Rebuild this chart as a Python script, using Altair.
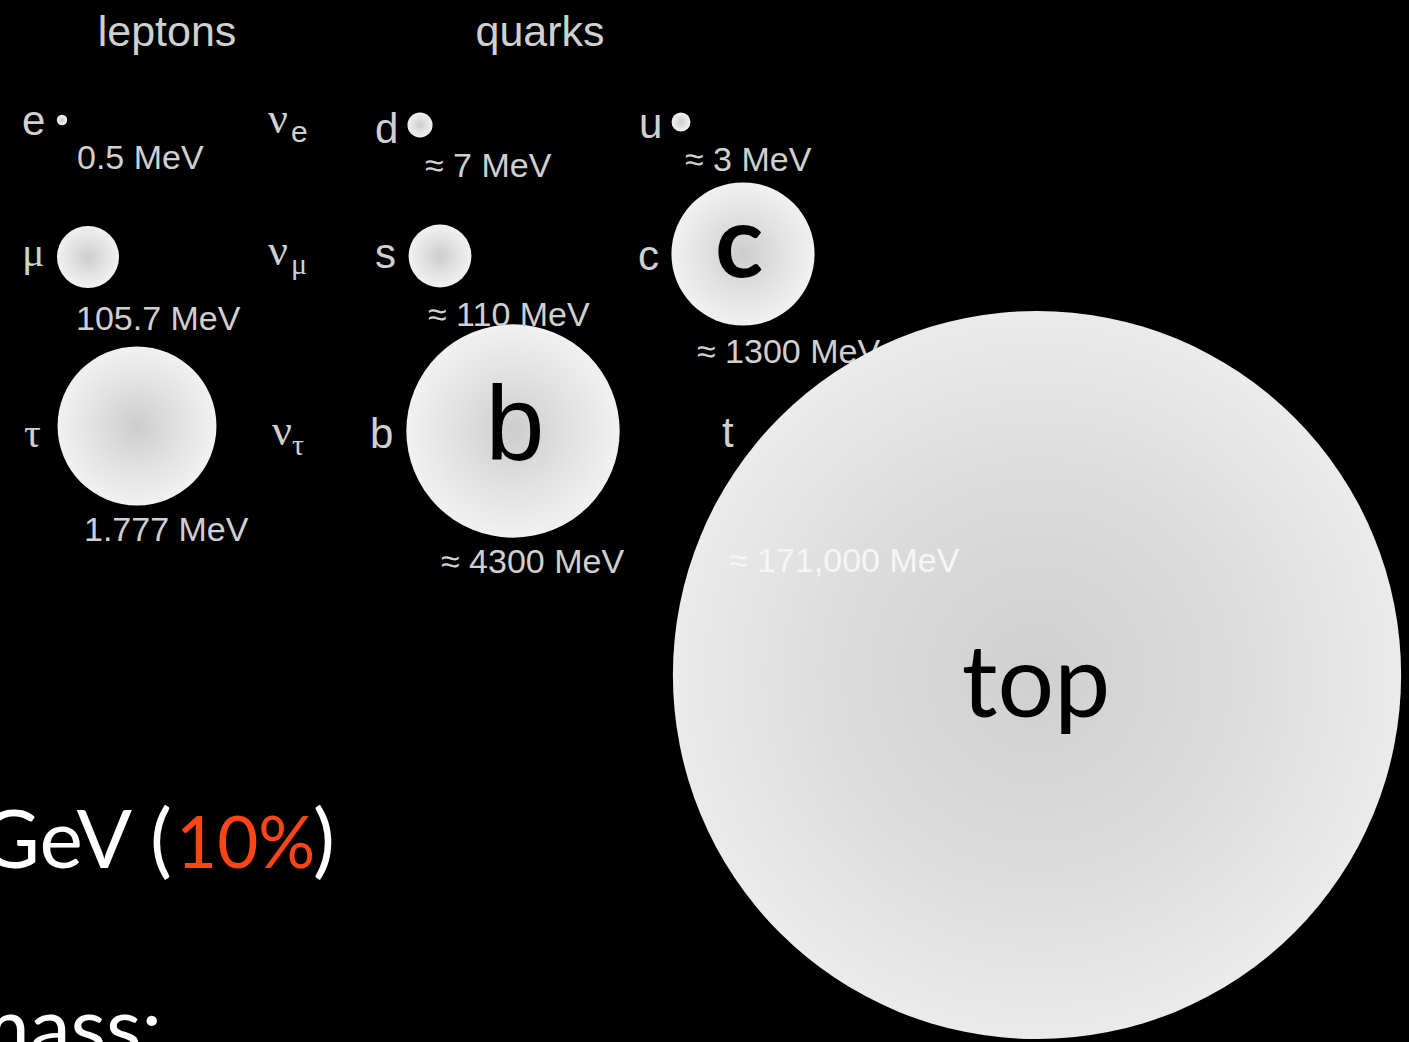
import altair as alt
import pandas as pd

W, H = 1409, 1042

# Fermion masses, drawn as spheres whose volume is proportional to mass
particles = ["e", "μ", "τ", "d", "s", "b", "u", "c", "t"]
masses_mev = [0.5, 105.7, 1777, 7, 110, 4300, 3, 1300, 171000]
mass_labels = ["0.5 MeV", "105.7 MeV", "1.777 MeV", "≈ 7 MeV", "≈ 110 MeV",
               "≈ 4300 MeV", "≈ 3 MeV", "≈ 1300 MeV", "≈ 171,000 MeV"]

# Layout of the slide (pixel coordinates, y measured from the top)
circle_x = [62, 88, 137, 420, 440, 513, 681, 743, 1037]
circle_y = [120, 257, 426, 125, 256, 431, 122, 254, 675]
symbol_x = [22, 22, 24, 375, 375, 370, 639, 638, 722]
symbol_y = [135, 266, 447, 143, 268, 448, 138, 270, 447]
label_x = [77, 76, 84, 425, 428, 441, 685, 697, 729]
label_y = [169, 330, 541, 177, 326, 573, 171, 363, 572]

# Neutrinos (no sphere drawn)
nu_flavours = ["e", "μ", "τ"]
nu_x = [268, 268, 272]
nu_y = [133, 265, 445]
nu_sub_x = [291, 291, 292]
nu_sub_y = [142, 274, 455]

headings = ["leptons", "quarks"]
heading_x = [167, 540]
heading_y = [46, 46]

# Radius per cube-root of MeV
RADIUS_PER_CBRT_MEV = 6.56
SIZE_MAX = (2 * RADIUS_PER_CBRT_MEV * max(masses_mev) ** (1 / 3)) ** 2

LABEL_GREY = "#d0d0d0"
SANS = "Liberation Sans"
SERIF = "Liberation Serif"
GILL = "Lato"

xs = alt.Scale(domain=[0, W], nice=False, zero=False)
ys = alt.Scale(domain=[0, H], nice=False, zero=False, reverse=True)

fermions = pd.DataFrame({
    "particle": particles, "mass": masses_mev, "label": mass_labels,
    "cx": circle_x, "cy": circle_y, "sx": symbol_x, "sy": symbol_y,
    "lx": label_x, "ly": label_y,
})
neutrinos = pd.DataFrame({"flavour": nu_flavours, "nu": ["ν"] * 3,
                          "x": nu_x, "y": nu_y, "subx": nu_sub_x, "suby": nu_sub_y})
heads = pd.DataFrame({"text": headings, "x": heading_x, "y": heading_y})


def sphere_fill(center, mid, edge):
    return alt.RadialGradient(
        gradient="radial",
        stops=[alt.GradientStop(offset=0, color=center),
               alt.GradientStop(offset=0.55, color=mid),
               alt.GradientStop(offset=1, color=edge)],
    )


def spheres(data, fill):
    return alt.Chart(data).mark_circle(fill=fill, opacity=1, strokeWidth=0).encode(
        x=alt.X("cx:Q", scale=xs, axis=None),
        y=alt.Y("cy:Q", scale=ys, axis=None),
        size=alt.Size("mass:Q", legend=None,
                      scale=alt.Scale(type="pow", exponent=2 / 3,
                                      domain=[0, max(masses_mev)], range=[0, SIZE_MAX])),
    )


def text(data, xf, yf, tf, font, size, color, align="left", weight="normal", dx=0, dy=0):
    return alt.Chart(data).mark_text(
        font=font, fontSize=size, color=color, align=align, baseline="alphabetic",
        fontWeight=weight, dx=dx, dy=dy,
    ).encode(
        x=alt.X(f"{xf}:Q", scale=xs, axis=None),
        y=alt.Y(f"{yf}:Q", scale=ys, axis=None),
        text=alt.Text(f"{tf}:N"),
    )


not_top = alt.datum.particle != "t"
is_top = alt.datum.particle == "t"
greek = "indexof(['μ','τ'], datum.particle) >= 0"

small_spheres = spheres(fermions, sphere_fill("#cdcdcd", "#e2e2e2", "#f1f1f1")).transform_filter(not_top)
top_sphere = spheres(fermions, sphere_fill("#d0d0d0", "#dcdcdc", "#ebebeb")).transform_filter(is_top)

latin_symbols = text(fermions, "sx", "sy", "particle", SANS, 42, LABEL_GREY).transform_filter(
    "indexof(['μ','τ'], datum.particle) < 0")
greek_symbols = text(fermions, "sx", "sy", "particle", SERIF, 42, LABEL_GREY).transform_filter(greek)

nu_letters = text(neutrinos, "x", "y", "nu", SERIF, 44, LABEL_GREY)
nu_sub_latin = text(neutrinos, "subx", "suby", "flavour", SANS, 30, LABEL_GREY).transform_filter(
    alt.datum.flavour == "e")
nu_sub_greek = text(neutrinos, "subx", "suby", "flavour", SERIF, 30, LABEL_GREY).transform_filter(
    alt.datum.flavour != "e")

heading_text = text(heads, "x", "y", "text", SANS, 43, LABEL_GREY, align="center")

mass_text = text(fermions, "lx", "ly", "label", SANS, 34, LABEL_GREY).transform_filter(not_top)
top_mass_text = text(fermions, "lx", "ly", "label", SANS, 34, "#f6f6f6").transform_filter(is_top)

charm_letter = text(fermions, "cx", "cy", "particle", GILL, 100, "#000000", align="center",
                    weight="bold", dx=-4, dy=23).transform_filter(alt.datum.particle == "c")
bottom_letter = text(fermions, "cx", "cy", "particle", SANS, 106, "#000000", align="center",
                     dx=2, dy=29).transform_filter(alt.datum.particle == "b")
top_word = text(fermions.assign(word="top"), "cx", "cy", "word", GILL, 100, "#000000",
                align="center", dx=-1, dy=42).transform_filter(is_top)

# Running text of the slide underneath
slide_lines = pd.DataFrame({
    "text": ["GeV (", "10%", ")", "mass:"],
    "x": [172, 176, 313, 162],
    "y": [868, 868, 868, 1056],
    "part": ["plain", "accent", "close", "plain"],
})
slide_plain_right = text(slide_lines, "x", "y", "text", GILL, 82, "#ffffff", align="right").transform_filter(
    alt.datum.part == "plain")
slide_close = text(slide_lines, "x", "y", "text", GILL, 82, "#ffffff").transform_filter(
    alt.datum.part == "close")
slide_accent = text(slide_lines, "x", "y", "text", GILL, 71, "#fd4516").transform_filter(
    alt.datum.part == "accent")

chart = alt.layer(
    small_spheres,
    latin_symbols, greek_symbols,
    nu_letters, nu_sub_latin, nu_sub_greek,
    heading_text,
    mass_text,
    charm_letter, bottom_letter,
    slide_plain_right, slide_close, slide_accent,
    top_sphere,
    top_mass_text,
    top_word,
).properties(
    width=W, height=H, padding=0, background="#000000",
    autosize=alt.AutoSizeParams(type="none"),
).configure_view(stroke=None)

chart.save("out.html", embed_options={"renderer": "svg", "actions": False})
